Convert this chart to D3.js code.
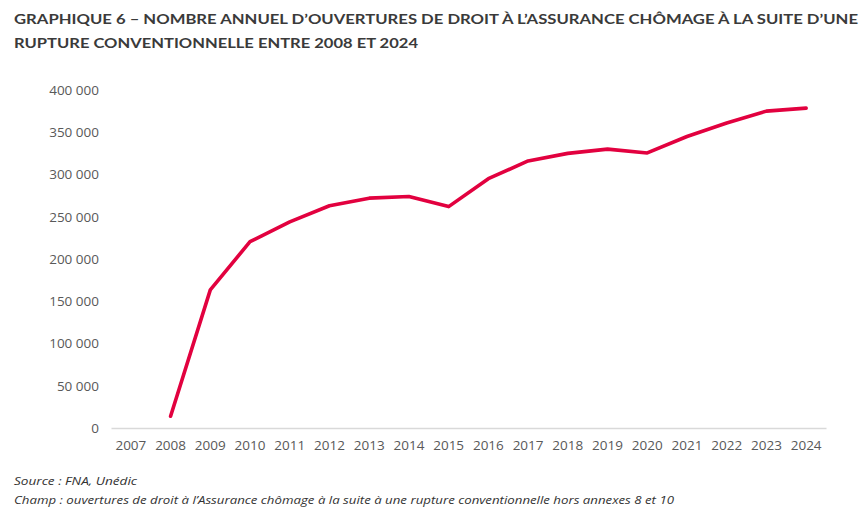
<!DOCTYPE html>
<html>
<head>
<meta charset="utf-8">
<script src="https://cdn.jsdelivr.net/npm/d3@7"></script>
<style>
  body { margin: 0; background: #fff; }
  svg { display: block; }
</style>
</head>
<body>
<script>
// data
const years = ['2007','2008','2009','2010','2011','2012','2013','2014','2015','2016','2017','2018','2019','2020','2021','2022','2023','2024']
const valueYears = ['2008','2009','2010','2011','2012','2013','2014','2015','2016','2017','2018','2019','2020','2021','2022','2023','2024']
const values = [14000, 163500, 220500, 244000, 263000, 272000, 274000, 262000, 295000, 316000, 325000, 330000, 325500, 345000, 361000, 375000, 378500]
const yTicks = [0, 50000, 100000, 150000, 200000, 250000, 300000, 350000, 400000]
const titleLines = [
    "GRAPHIQUE 6 – NOMBRE ANNUEL D’OUVERTURES DE DROIT À L’ASSURANCE CHÔMAGE À LA SUITE D’UNE",
    "RUPTURE CONVENTIONNELLE ENTRE 2008 ET 2024"
]
const notes = [
    "Source : FNA, Unédic",
    "Champ : ouvertures de droit à l’Assurance chômage à la suite à une rupture conventionnelle hors annexes 8 et 10"
]

// sizes
const size = { width: 864, height: 513 }
const plot = { left: 111, right: 826, top: 90, bottom: 428 }

const svg = d3.select('body')
    .append('svg')
    .attr('width', size.width)
    .attr('height', size.height)

// title (widths matched to the reference)
const titleWidths = [844, 404]
svg.append('g')
    .selectAll('text')
    .data(titleLines)
    .enter()
    .append('text')
    .attr('x', 14)
    .attr('y', (d, i) => 24 + i * 24)
    .attr('font-family', 'Lato, sans-serif')
    .attr('font-weight', 'bold')
    .attr('font-size', 14)
    .attr('fill', '#3a3a3a')
    .attr('textLength', (d, i) => titleWidths[i])
    .attr('lengthAdjust', 'spacingAndGlyphs')
    .text(d => d)

// scales
const xScale = d3.scaleBand()
    .domain(years)
    .range([plot.left, plot.right])
const yScale = d3.scaleLinear()
    .domain([0, 400000])
    .range([plot.bottom, plot.top])

const fmt = v => d3.format(',')(v).replace(/,/g, ' ')

// axes
const xAxis = d3.axisBottom(xScale).tickSize(0).tickPadding(12)
const yAxis = d3.axisLeft(yScale).tickValues(yTicks).tickSize(0).tickPadding(12).tickFormat(fmt)

const gx = svg.append('g')
    .attr('transform', `translate(0, ${plot.bottom})`)
    .call(xAxis)
gx.select('.domain').attr('stroke', '#d9d9d9').attr('stroke-width', 1.5)

const gy = svg.append('g')
    .attr('transform', `translate(${plot.left}, 0)`)
    .call(yAxis)
gy.select('.domain').remove()

svg.selectAll('.tick text')
    .attr('font-family', '"Open Sans", sans-serif')
    .attr('font-size', 13.5)
    .attr('fill', '#595959')

// line
const line = d3.line()
    .x((d, i) => xScale(valueYears[i]) + xScale.bandwidth() / 2)
    .y(d => yScale(d))

svg.append('path')
    .datum(values)
    .attr('d', line)
    .attr('fill', 'none')
    .attr('stroke', '#e2013f')
    .attr('stroke-width', 3.6)
    .attr('stroke-linejoin', 'round')
    .attr('stroke-linecap', 'round')

// notes
const noteWidths = [123, 660]
svg.append('g')
    .selectAll('text')
    .data(notes)
    .enter()
    .append('text')
    .attr('x', 14)
    .attr('y', (d, i) => 485 + i * 19)
    .attr('font-family', '"Open Sans", sans-serif')
    .attr('font-style', 'italic')
    .attr('font-size', 11.5)
    .attr('fill', '#333')
    .attr('textLength', (d, i) => noteWidths[i])
    .attr('lengthAdjust', 'spacingAndGlyphs')
    .text(d => d)
</script>
</body>
</html>
